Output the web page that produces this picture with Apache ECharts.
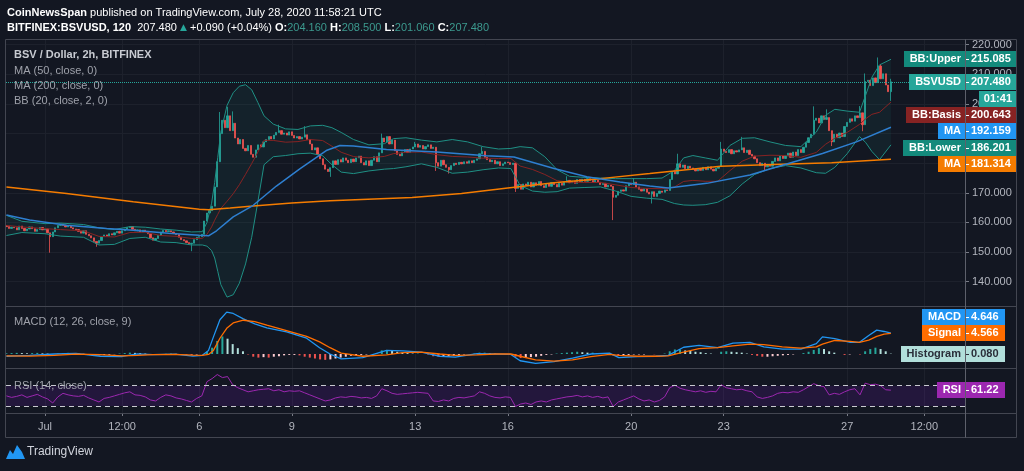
<!DOCTYPE html>
<html>
<head>
<meta charset="utf-8">
<title>BSV / Dollar, 2h, BITFINEX</title>
<script src="https://cdn.jsdelivr.net/npm/echarts@6.0.0/dist/echarts.min.js"></script>
<style>
html,body{margin:0;padding:0;background:#131722;overflow:hidden;}
#chart{width:1024px;height:471px;}
</style>
</head>
<body>
<div id="chart"></div>
<script>
// ================= DATA =================
// time unit: days after 2020-07-01 00:00 UTC
const firstCandleDay = -1.25;      // first visible 2h candle: Jun 29 18:00
const candleDays = 1 / 12;         // 2-hour candles
const firstOpen = 158.9;
const closes = [
  158.6,158.0,158.4,
  158.2,157.5,158.8,158.0,157.2,157.8,158.5,157.9,157.0,157.6,158.3,157.5,
  157.8,156.5,155.2,156.8,158.2,159.0,159.4,159.0,158.5,158.9,158.2,157.8,
  157.6,157.0,156.4,157.2,156.0,155.5,154.8,153.6,153.0,153.9,155.2,155.8,
  155.4,156.2,155.8,156.5,157.0,156.4,157.2,157.8,158.3,158.6,157.7,157.2,
  157.5,156.8,157.4,157.0,156.2,154.8,154.0,154.6,155.6,156.8,157.3,156.9,
  157.2,156.8,156.3,155.9,155.0,154.2,153.8,153.2,152.8,153.0,154.2,155.0,
  155.2,156.0,160.5,163.2,164.0,165.5,172.0,180.5,190.0,194.5,192.0,196.0,
  191.0,193.5,188.5,186.5,188.0,185.0,184.2,186.0,183.0,182.0,184.5,186.2,
  185.5,187.2,188.0,189.0,188.2,189.5,190.4,191.0,189.8,190.2,189.5,190.6,
  189.4,188.5,189.0,188.2,188.8,189.6,188.0,186.5,184.5,185.2,183.0,181.5,
  179.5,178.0,177.2,178.5,180.8,179.6,181.2,180.4,181.8,181.0,180.2,181.4,
  180.5,181.8,182.4,180.2,179.4,180.8,179.2,181.0,182.2,180.5,183.5,188.5,
  187.2,189.0,186.5,187.8,184.2,183.0,182.5,183.8,184.6,183.6,184.8,185.5,
  186.5,185.4,186.0,184.8,185.6,186.2,185.0,185.4,180.2,179.0,181.0,179.5,
  178.6,177.8,179.2,180.0,179.6,180.3,179.8,180.5,180.0,180.8,180.2,181.0,
  181.5,183.2,184.0,182.0,181.2,180.5,181.0,179.8,180.5,179.2,179.8,180.4,
  180.2,179.6,180.0,171.5,172.8,171.2,173.0,172.5,173.6,172.0,173.4,172.6,
  173.8,172.4,171.8,173.0,172.2,173.5,172.8,172.0,173.2,172.6,173.6,174.2,
  173.4,174.0,173.2,174.5,173.8,174.6,173.9,174.8,174.2,173.5,174.3,173.6,
  172.8,173.2,172.0,172.6,172.2,168.5,169.2,170.5,171.0,170.6,172.4,173.2,
  172.8,173.6,172.0,171.2,170.6,171.4,170.2,169.6,170.4,168.8,169.8,170.6,
  170.2,171.0,170.8,174.5,177.2,176.4,179.8,178.6,179.4,178.2,179.0,178.4,
  178.0,177.4,178.2,177.6,178.6,177.8,178.8,178.0,177.4,178.3,178.9,184.8,
  184.0,183.6,184.6,183.2,184.2,183.8,184.5,185.2,183.6,184.4,183.0,182.4,
  181.5,180.2,179.2,180.0,178.8,179.6,179.0,180.6,181.8,180.8,182.4,181.6,
  182.5,183.4,182.0,183.8,182.6,184.6,183.6,185.4,187.0,188.6,189.8,194.5,
  195.2,193.6,196.0,194.8,195.4,191.0,187.2,189.8,188.6,190.2,189.0,192.4,
  193.8,195.0,194.2,196.0,195.4,197.0,193.0,207.6,208.0,206.2,208.8,207.2,
  212.8,208.5,210.2,206.4,204.16,207.48
];
// [candle index, price] for visible wicks
const wickHigh = [[83,197.3],[86,199.0],[88,197.5],[106,193.0],[116,192.5],[146,190.0],[159,187.2],
  [185,185.5],[218,175.6],[244,175.0],[261,183.2],[278,187.2],[286,188.9],[314,199.2],[319,198.2],
  [332,199.3],[334,210.3],[339,215.7],[340,213.5],[344,208.5]];
const wickLow = [[17,149.8],[35,151.8],[72,150.3],[126,175.4],[167,177.4],[172,176.5],[198,170.3],
  [236,160.8],[251,166.4],[295,177.6],[321,185.8],[333,190.8],[344,201.06]];

// Bollinger Bands (20, close, 2)
const bbT = [-1.25,-0.75,0,0.5,1.25,1.75,2.25,2.75,3.25,3.75,4.25,4.75,5.1,5.25,5.4,5.5,5.6,5.7,5.9,6.1,
  6.3,6.5,6.7,6.9,7.1,7.4,7.8,8.2,8.6,9.0,9.3,9.6,10.0,10.5,11.0,11.3,11.7,12.2,12.7,13.2,
  13.7,14.2,14.7,15.1,15.4,15.8,16.2,16.6,17.0,17.5,18.0,18.5,19.0,19.5,20.0,20.4,20.7,21.0,21.4,21.8,
  22.2,22.6,23.0,23.5,24.0,24.5,25.0,25.3,25.6,26.0,26.4,26.6,26.8,27.05,27.42];
const bbUpper = [162.4,160.4,159.6,159.8,159.3,158.2,157.6,158.6,158.4,157.8,157.4,156.8,156.9,160.0,166.5,173.5,182.0,190.5,199.5,203.8,
  206.0,206.5,204.8,200.5,196.0,193.2,191.6,191.4,192.6,192.8,192.0,190.4,188.0,186.2,186.6,188.3,188.6,187.8,187.2,188.0,
  187.2,185.6,184.8,185.0,185.6,185.2,182.2,177.8,175.6,175.2,175.0,174.8,174.8,174.8,175.0,177.5,181.8,182.6,181.8,181.0,
  186.0,188.4,188.6,187.2,186.0,185.6,190.5,196.2,198.2,197.6,197.2,203.0,209.0,213.2,215.085];
const bbBasis = [159.0,158.5,157.9,157.6,157.15,155.3,155.1,156.6,156.7,155.6,155.3,154.6,154.65,156.0,158.5,160.75,162.75,164.75,167.15,169.7,
  172.75,176.25,179.9,183.75,187.75,187.7,187.1,187.3,188.0,187.65,185.75,183.7,182.25,181.8,182.3,183.25,183.7,183.8,182.9,182.3,
  182.1,181.7,181.6,181.6,179.05,177.9,176.2,174.1,173.6,173.5,173.5,172.7,171.8,171.5,171.4,171.95,173.85,174.2,173.9,173.9,
  177.5,180.7,182.4,182.7,182.6,182.0,183.65,186.4,188.4,190.4,193.1,195.0,196.5,197.2,200.643];
const bbLower = [155.6,156.6,156.2,155.4,155.0,152.4,152.6,154.6,155.0,153.4,153.2,152.4,152.4,152.0,150.5,148.0,143.5,139.0,134.8,135.6,
  139.5,146.0,155.0,167.0,179.5,182.2,182.6,183.2,183.4,182.5,179.5,177.0,176.5,177.4,178.0,178.2,178.8,179.8,178.6,176.6,
  177.0,177.8,178.4,178.2,172.5,170.6,170.2,170.4,171.6,171.8,172.0,170.6,168.8,168.2,167.8,166.4,165.9,165.8,166.0,166.8,
  169.0,173.0,176.2,178.2,179.2,178.4,176.8,176.6,178.6,183.2,189.0,187.0,184.0,181.2,186.201];

// Moving averages
const ma50T = [-1.25,-0.5,0.7,2.0,2.86,4.0,5.0,5.3,5.56,6.1,6.75,7.5,8.27,9.14,9.56,10.0,11.07,12.7,14.3,15.2,
  16.5,17.56,18.64,19.6,20.2,21.45,22.85,23.9,25.2,26.3,27.42];
const ma50 = [162.5,160.8,159.1,158.0,157.4,156.4,155.7,155.5,157.2,161.9,165.8,172.3,178.2,184.4,186.0,185.8,184.6,183.8,182.5,182.1,
  178.2,175.4,173.7,172.3,171.6,173.2,176.0,179.3,183.3,187.2,192.159];
const ma200T = [-1.25,0.7,2.86,5.0,5.3,6.0,6.75,8.0,9.24,11.9,13.5,15.0,16.5,18.0,19.6,21.9,23.6,25.5,27.42];
const ma200 = [172.0,169.8,167.0,164.5,164.3,164.9,165.6,166.6,167.3,168.4,169.8,171.6,173.4,174.8,176.5,179.0,179.6,180.2,181.314];

// MACD (12, 26, close, 9)
const macdT = [-1.25,-0.5,0.3,1.0,1.8,2.5,3.0,3.5,4.2,4.8,5.1,5.3,5.46,5.67,5.89,6.1,6.43,6.8,7.19,7.83,
  8.48,8.9,9.24,9.6,10.3,11.07,11.6,12.2,12.8,13.3,14.0,14.6,15.1,15.4,15.9,16.5,17.1,17.7,18.3,18.6,
  19.2,19.8,20.2,20.7,21.2,21.8,22.3,22.85,23.3,23.9,24.5,25.0,25.2,25.6,26.1,26.4,26.7,26.96,27.2,27.42];
const macdLine = [-0.5,-0.3,0.0,0.15,-0.5,-0.55,0.05,-0.15,-0.05,-0.45,-0.3,0.8,3.8,7.6,9.3,9.0,7.8,6.7,5.8,4.9,
  3.5,1.4,0.0,-1.1,-0.8,0.8,0.7,0.4,-0.5,-0.7,0.1,0.0,-0.1,-1.5,-2.1,-1.7,-0.9,0.0,0.2,-0.8,
  -0.6,-0.5,-0.3,1.5,1.9,1.4,2.4,2.6,1.6,1.1,1.1,2.3,3.8,3.4,2.6,2.6,4.1,5.3,5.0,4.646];
const signalLine = [-0.4,-0.45,-0.3,-0.05,-0.15,-0.4,-0.3,-0.15,-0.1,-0.25,-0.3,-0.1,0.8,3.5,5.7,6.9,7.5,7.2,6.4,5.2,
  3.9,2.7,1.4,0.2,-0.5,-0.2,0.3,0.4,0.0,-0.3,-0.2,0.0,0.0,-0.5,-1.3,-1.6,-1.3,-0.6,-0.1,-0.3,
  -0.5,-0.5,-0.4,0.4,1.2,1.4,1.8,2.2,2.1,1.6,1.3,1.6,2.2,3.0,2.8,2.6,3.1,3.9,4.4,4.566];

// oscillators sampled every 4 hours from Jun 29 18:00
const oscStartDay = -1.25;
const oscStepDays = 1 / 6;
const histogram = [
  0.15,0.2,
  0.25,0.2,0.15,0.2,0.25,0.15,
  0.1,-0.05,0.1,0.2,0.25,0.2,
  0.15,0.05,-0.1,-0.2,-0.3,-0.2,
  -0.15,-0.05,0.1,0.2,0.3,0.25,
  0.2,0.1,-0.05,-0.15,-0.1,0.05,
  0.1,0.05,-0.05,-0.15,-0.2,-0.1,
  0.0,0.5,1.4,2.9,3.9,3.4,
  2.2,1.3,0.6,-0.1,-0.6,-0.8,
  -0.7,-0.8,-0.6,-0.5,-0.3,-0.2,
  -0.2,-0.3,-0.6,-0.8,-1.0,-1.2,
  -1.3,-1.2,-1.0,-0.8,-0.6,-0.4,
  -0.3,-0.2,-0.1,0.0,0.2,0.8,
  0.9,0.7,0.5,0.3,0.2,0.1,
  0.1,0.0,-0.1,-0.5,-0.6,-0.6,
  -0.5,-0.4,-0.3,-0.1,0.0,0.1,
  0.3,0.3,0.2,0.1,0.0,-0.1,
  -0.1,-0.6,-0.9,-0.8,-0.7,-0.6,
  -0.4,-0.2,-0.1,0.1,0.2,0.3,
  0.4,0.5,0.4,0.3,0.3,0.2,
  0.2,0.1,-0.3,-0.4,-0.3,-0.2,
  -0.1,-0.1,-0.1,0.0,-0.05,0.0,
  0.1,0.6,1.0,1.0,0.8,0.7,
  0.5,0.4,0.2,0.1,0.0,0.5,
  0.6,0.5,0.4,0.3,0.1,-0.2,
  -0.4,-0.6,-0.6,-0.5,-0.4,-0.3,
  -0.2,-0.1,0.0,0.2,0.5,0.9,
  1.3,1.1,0.6,0.3,0.0,-0.2,
  -0.1,0.0,-0.1,0.6,1.1,1.4,
  1.1,0.6,0.08
];
const rsi = [
  50,47,
  49,52,47,50,53,48,
  44,36,48,55,52,50,
  49,51,46,42,38,45,
  47,50,53,56,58,52,
  51,48,42,40,47,52,
  50,46,44,41,38,45,
  50,78,84,92,86,88,
  72,66,62,58,60,62,
  63,64,60,62,58,60,
  59,60,56,52,48,44,
  40,42,46,48,47,49,
  48,46,47,45,50,64,
  60,55,53,54,55,56,
  57,56,55,40,39,42,
  40,45,47,46,48,50,
  58,55,50,47,46,48,
  47,29,34,36,33,38,
  40,38,42,44,46,48,
  49,51,48,50,47,49,
  46,48,29,38,42,46,
  50,44,40,42,38,41,
  48,66,71,65,62,60,
  58,60,57,59,58,72,
  66,64,62,63,60,58,
  48,45,47,50,55,57,
  56,58,57,62,68,74,
  70,68,52,55,53,58,
  62,64,52,75,72,73,
  70,62,61.22
];
const rsiBands = [70, 30];

// axes
const timeTicks = [0, 2.5, 5, 8, 12, 15, 19, 22, 26, 28.5];
const timeLabels = ['Jul', '12:00', '6', '9', '13', '16', '20', '23', '27', '12:00'];
const priceTicks = [140, 150, 160, 170, 180, 190, 200, 210, 220];
const changeAbs = 0.09, changePct = 0.04;
const countdown = '01:41';

// ================= BUILD =================
const FONT = '"Liberation Sans",Arial,"DejaVu Sans",sans-serif';
const BG = '#131722', GRIDC = '#1d212c', FRAME = '#434651', AXT = '#b2b5be';
const UP = '#26a69a', DOWN = '#ef5350';

const candles = closes.map((c, i) => {
  const o = i === 0 ? firstOpen : closes[i - 1];
  return [firstCandleDay + i * candleDays, o, c, Math.min(o, c), Math.max(o, c)];
});
wickHigh.forEach(([i, v]) => { candles[i][4] = v; });
wickLow.forEach(([i, v]) => { candles[i][3] = v; });
const last = candles[candles.length - 1];

const zip = (t, v) => t.map((x, i) => [x, v[i]]);
const oscT = i => oscStartDay + i * oscStepDays;
const histData = histogram.map((v, i) => {
  const p = i === 0 ? 0 : histogram[i - 1];
  const col = v >= 0 ? (v >= p ? '#26a69a' : '#b2dfdb') : (v < p ? '#ef5350' : '#ffcdd2');
  return { value: [oscT(i), v], itemStyle: { color: col } };
});
const rsiData = rsi.map((v, i) => [oscT(i), v]);

const X_MIN = -1.264, X_MAX = 29.82;
const tickLabel = v => { const i = timeTicks.findIndex(t => Math.abs(t - v) < 1e-6); return i < 0 ? '' : timeLabels[i]; };
function xAxis(idx, labels) {
  return {
    type: 'value', gridIndex: idx, min: X_MIN, max: X_MAX,
    axisLine: { show: false, onZero: false },
    axisTick: { show: labels, customValues: timeTicks, length: 3, lineStyle: { color: '#787b86' } },
    axisLabel: { show: labels, customValues: timeTicks, formatter: tickLabel, color: AXT, fontFamily: FONT, fontSize: 11, margin: 8 },
    splitLine: { show: true, lineStyle: { color: GRIDC, width: 1 } }
  };
}
const subY = (idx, min, max) => ({ type: 'value', gridIndex: idx, position: 'right', min, max,
  axisLine: { show: false, onZero: false }, axisTick: { show: false }, axisLabel: { show: false }, splitLine: { show: false } });

const chart = echarts.init(document.getElementById('chart'), null, { renderer: 'canvas' });
chart.setOption({
  backgroundColor: BG,
  animation: false,
  textStyle: { fontFamily: FONT },
  grid: [
    { left: 6, top: 40, width: 959, height: 266 },
    { left: 6, top: 307, width: 959, height: 61 },
    { left: 6, top: 369, width: 959, height: 44 }
  ],
  xAxis: [xAxis(0, false), xAxis(1, false), xAxis(2, true)],
  yAxis: [
    { type: 'value', gridIndex: 0, position: 'right', min: 131.8, max: 221.6,
      axisLine: { show: false, onZero: false },
      axisTick: { show: true, customValues: priceTicks, length: 4, lineStyle: { color: '#787b86' } },
      axisLabel: { customValues: priceTicks, formatter: v => v.toFixed(3), color: AXT, fontFamily: FONT, fontSize: 11, margin: 7 },
      splitLine: { show: true, lineStyle: { color: GRIDC } } },
    subY(1, -3.11, 10.44),
    subY(2, 16.3, 102.9)
  ],
  series: [
    { type: 'custom', name: 'BB fill', xAxisIndex: 0, yAxisIndex: 0, silent: true, z: 1, clip: true,
      data: [[bbT[0], bbUpper[0]]],
      renderItem: (params, api) => {
        const pts = [];
        for (let i = 0; i < bbT.length; i++) pts.push(api.coord([bbT[i], bbUpper[i]]));
        for (let i = bbT.length - 1; i >= 0; i--) pts.push(api.coord([bbT[i], bbLower[i]]));
        return { type: 'polygon', shape: { points: pts }, style: { fill: 'rgba(38,166,154,0.08)' } };
      } },
    { type: 'candlestick', name: 'BSVUSD', xAxisIndex: 0, yAxisIndex: 0, z: 2,
      data: candles, encode: { x: 0, y: [1, 2, 3, 4] }, barWidth: 1.7,
      itemStyle: { color: UP, color0: DOWN, borderColor: UP, borderColor0: DOWN, borderWidth: 0.8 },
      markLine: { symbol: 'none', silent: true, label: { show: false },
        lineStyle: { color: UP, type: 'dotted', width: 1 }, data: [{ yAxis: last[2] }] } },
    { type: 'line', name: 'BB:Upper', xAxisIndex: 0, yAxisIndex: 0, z: 3, showSymbol: false, silent: true,
      data: zip(bbT, bbUpper), lineStyle: { color: '#1f8f84', width: 1 } },
    { type: 'line', name: 'BB:Lower', xAxisIndex: 0, yAxisIndex: 0, z: 3, showSymbol: false, silent: true,
      data: zip(bbT, bbLower), lineStyle: { color: '#1f8f84', width: 1 } },
    { type: 'line', name: 'BB:Basis', xAxisIndex: 0, yAxisIndex: 0, z: 3, showSymbol: false, silent: true,
      data: zip(bbT, bbBasis), lineStyle: { color: '#872323', width: 1 } },
    { type: 'line', name: 'MA200', xAxisIndex: 0, yAxisIndex: 0, z: 3, showSymbol: false, silent: true,
      data: zip(ma200T, ma200), lineStyle: { color: '#f57c00', width: 1.5 } },
    { type: 'line', name: 'MA50', xAxisIndex: 0, yAxisIndex: 0, z: 3, showSymbol: false, silent: true,
      data: zip(ma50T, ma50), lineStyle: { color: '#2e7fd0', width: 1.5 } },
    { type: 'bar', name: 'Histogram', xAxisIndex: 1, yAxisIndex: 1, barWidth: 2, data: histData, silent: true },
    { type: 'line', name: 'MACD', xAxisIndex: 1, yAxisIndex: 1, showSymbol: false, silent: true,
      data: zip(macdT, macdLine), lineStyle: { color: '#2196f3', width: 1.3 } },
    { type: 'line', name: 'Signal', xAxisIndex: 1, yAxisIndex: 1, showSymbol: false, silent: true,
      data: zip(macdT, signalLine), lineStyle: { color: '#ff6d00', width: 1.3 } },
    { type: 'line', name: 'RSI', xAxisIndex: 2, yAxisIndex: 2, showSymbol: false, silent: true,
      data: rsiData, lineStyle: { color: '#9c27b0', width: 1 },
      markArea: { silent: true, itemStyle: { color: 'rgba(153,21,255,0.12)' },
        data: [[{ yAxis: rsiBands[0] }, { yAxis: rsiBands[1] }]] },
      markLine: { symbol: 'none', silent: true, label: { show: false },
        lineStyle: { color: '#c8cad0', type: [5, 4], width: 1 },
        data: rsiBands.map(v => ({ yAxis: v })) } }
  ]
});

// ---------- texts, frame and price badges ----------
const ctx = document.createElement('canvas').getContext('2d');
const BFONT = `bold 11px ${FONT}`;
const measure = s => { ctx.font = BFONT; return ctx.measureText(s).width; };
const txt = (x, y, text, fill, font, align, z) => ({
  type: 'text', x, y, z: z || 60,
  style: { text, fill, font, align: align || 'left', verticalAlign: 'middle', textAlign: align || 'left', textVerticalAlign: 'middle' }
});

const g = [];
// header
g.push({ type: 'text', x: 7, y: 12.5, z: 60, style: {
  text: '{b|CoinNewsSpan}{n| published on TradingView.com, July 28, 2020 11:58:21 UTC}',
  verticalAlign: 'middle', textVerticalAlign: 'middle',
  rich: { b: { fill: '#ffffff', fontWeight: 'bold', fontSize: 11, fontFamily: FONT },
          n: { fill: '#ffffff', fontSize: 11, fontFamily: FONT } } } });
const f3 = v => v.toFixed(3);
g.push({ type: 'text', x: 7, y: 27.5, z: 60, style: {
  text: `{b|BITFINEX:BSVUSD, 120}{n|  ${f3(last[2])} }{u|▲}{n| +${f3(changeAbs)} (+${changePct.toFixed(2)}%) }` +
        `{b|O:}{v|${f3(last[1])}}{b| H:}{v|${f3(last[4])}}{b| L:}{v|${f3(last[3])}}{b| C:}{v|${f3(last[2])}}`,
  verticalAlign: 'middle', textVerticalAlign: 'middle',
  rich: { b: { fill: '#ffffff', fontWeight: 'bold', fontSize: 11, fontFamily: FONT },
          n: { fill: '#ffffff', fontSize: 11, fontFamily: FONT },
          u: { fill: '#26a69a', fontSize: 9, fontFamily: '"DejaVu Sans",sans-serif' },
          v: { fill: '#3c9a8f', fontSize: 11, fontFamily: FONT } } } });
// pane legends
const LF = `11px ${FONT}`;
g.push(txt(14, 55, 'BSV / Dollar, 2h, BITFINEX', '#c8cbd2', `bold 11px ${FONT}`));
g.push(txt(14, 70.5, 'MA (50, close, 0)', '#9fa2ab', LF));
g.push(txt(14, 85.5, 'MA (200, close, 0)', '#9fa2ab', LF));
g.push(txt(14, 100.5, 'BB (20, close, 2, 0)', '#9fa2ab', LF));
g.push(txt(14, 321.5, 'MACD (12, 26, close, 9)', '#9fa2ab', LF));
g.push(txt(14, 385.5, 'RSI (14, close)', '#9fa2ab', LF));
// footer
g.push({ type: 'polygon', z: 60, shape: { points: [[6, 459], [10, 450], [13, 454], [17, 445], [22, 452], [25, 459]] },
  style: { fill: '#2196f3' } });
g.push(txt(27, 452, 'TradingView', '#d1d4dc', `12px ${FONT}`));

// frame
const L = (x1, y1, x2, y2) => ({ type: 'line', z: 80, shape: { x1, y1, x2, y2 }, style: { stroke: FRAME, lineWidth: 1 } });
g.push({ type: 'rect', z: 80, shape: { x: 5.5, y: 39.5, width: 1011, height: 398 }, style: { fill: null, stroke: FRAME, lineWidth: 1 } });
g.push(L(5.5, 306.5, 1016.5, 306.5), L(5.5, 368.5, 1016.5, 368.5), L(5.5, 413.5, 1016.5, 413.5));
g.push({ type: 'line', z: 90, shape: { x1: 965.5, y1: 39.5, x2: 965.5, y2: 437.5 }, style: { stroke: '#5d606b', lineWidth: 1 } });

// badges
const H = 16;
function badge(yc, name, valText, bg, fg) {
  const nw = measure(name), vw = measure(valText);
  const left = Math.round(961 - nw - 6), right = Math.round(971 + vw + 6);
  const top = Math.round(yc - H / 2);
  const c = top + H / 2;
  g.push({ type: 'rect', z: 70, shape: { x: left, y: top, width: right - left, height: H }, style: { fill: bg } });
  g.push(txt(961, c, name, fg, BFONT, 'right', 72));
  g.push({ type: 'line', z: 72, shape: { x1: 965, y1: c + 0.5, x2: 969, y2: c + 0.5 }, style: { stroke: fg, lineWidth: 1 } });
  g.push(txt(971, c, valText, fg, BFONT, 'left', 72));
  return right;
}
const py = (axis, v) => chart.convertToPixel({ yAxisIndex: axis }, v);
const lastOf = a => a[a.length - 1];

const mainBadges = [
  { name: 'BB:Upper', v: lastOf(bbUpper), bg: '#138a7c' },
  { name: 'BSVUSD', v: last[2], bg: '#26a69a', extra: true },
  { name: 'BB:Basis', v: lastOf(bbBasis), bg: '#872323' },
  { name: 'MA', v: lastOf(ma50), bg: '#2196f3' },
  { name: 'BB:Lower', v: lastOf(bbLower), bg: '#138a7c' },
  { name: 'MA', v: lastOf(ma200), bg: '#f57c00' }
].map(b => Object.assign(b, { y: py(0, b.v) })).sort((a, b) => a.y - b.y);
let prevBottom = -1e9;
mainBadges.forEach(b => {
  const top = Math.max(b.y - H / 2, prevBottom + 0.3);
  const yc = top + H / 2;
  const right = badge(yc, b.name, f3(b.v), b.bg, '#ffffff');
  prevBottom = top + H;
  if (b.extra) {
    const cw = measure(countdown);
    const ct = Math.round(yc - H / 2) + H + 1;
    g.push({ type: 'rect', z: 70, shape: { x: Math.round(right - cw - 10), y: ct, width: Math.round(cw + 10), height: H }, style: { fill: b.bg } });
    g.push(txt(right - 5, ct + H / 2, countdown, '#ffffff', BFONT, 'right', 72));
    prevBottom += H + 1;
  }
});

const subBadges = [
  { name: 'MACD', v: lastOf(macdLine), bg: '#2196f3', fg: '#ffffff' },
  { name: 'Signal', v: lastOf(signalLine), bg: '#ff6d00', fg: '#ffffff' },
  { name: 'Histogram', v: lastOf(histogram), bg: '#b2dfdb', fg: '#2a2e39' }
].map(b => Object.assign(b, { y: py(1, b.v) })).sort((a, b) => b.y - a.y);
let prevTop = 1e9;
subBadges.forEach(b => {
  const bottom = Math.min(b.y + H / 2, prevTop);
  badge(bottom - H / 2, b.name, f3(b.v), b.bg, b.fg);
  prevTop = bottom - H;
});
badge(py(2, lastOf(rsi)), 'RSI', lastOf(rsi).toFixed(2), '#9c27b0', '#ffffff');

chart.setOption({ graphic: g });
</script>
</body>
</html>
